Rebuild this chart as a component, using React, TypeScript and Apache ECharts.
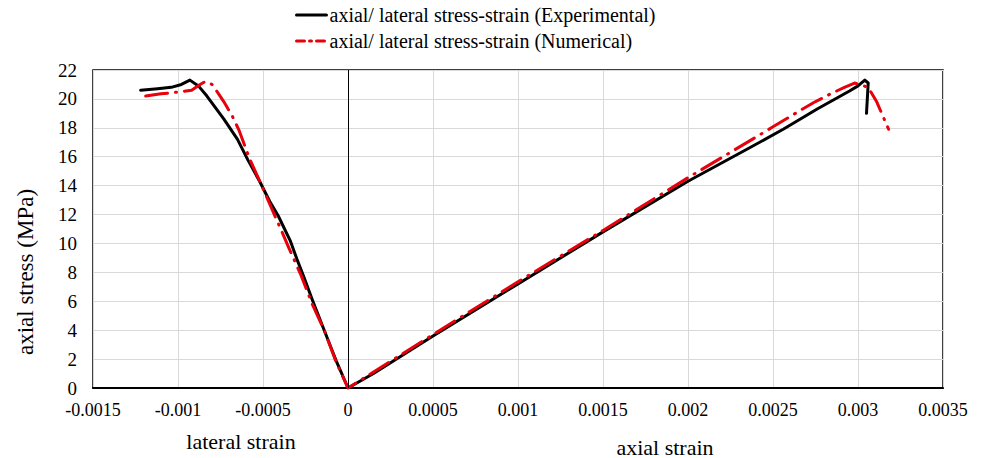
import React, { useEffect, useRef } from "react";
import * as echarts from "echarts";

// [strain, stress MPa]
const expLateral: [number, number][] = [
  [-0.00122, 20.6], [-0.00112, 20.7], [-0.00104, 20.8], [-0.00098, 21.0], [-0.00093, 21.3],
  [-0.00088, 20.9], [-0.00083, 20.2], [-0.00078, 19.4], [-0.00073, 18.6], [-0.00065, 17.2],
  [-0.00059, 15.8], [-0.00052, 14.3], [-0.00046, 12.9], [-0.00041, 11.9], [-0.00034, 10.2],
  [-0.00030, 8.9], [-0.00026, 7.7], [-0.00021, 6.1], [-0.00014, 4.0], [-0.00007, 1.9], [0, 0],
];
const expAxial: [number, number][] = [
  [0, 0], [0.00015, 1.0], [0.0005, 3.6], [0.001, 7.2], [0.0015, 10.8], [0.002, 14.3],
  [0.00236, 16.6], [0.00256, 17.9], [0.00276, 19.3], [0.00295, 20.55], [0.003, 20.9],
  [0.00304, 21.3], [0.00306, 21.1], [0.00305, 19.0],
];
const numLateral: [number, number][] = [
  [-0.00119, 20.2], [-0.00110, 20.35], [-0.00102, 20.45], [-0.00092, 20.6], [-0.00087, 21.0],
  [-0.00084, 21.2], [-0.00080, 21.0], [-0.00077, 20.5], [-0.00073, 19.8], [-0.00068, 18.8],
  [-0.00064, 17.8], [-0.00058, 15.9], [-0.00054, 14.85], [-0.00050, 13.8], [-0.00043, 11.9],
  [-0.00039, 10.85], [-0.00035, 9.75], [-0.00028, 7.9], [-0.00021, 5.8], [-0.00014, 4.0],
  [-0.00007, 1.8], [0, 0],
];
const numAxial: [number, number][] = [
  [0, 0], [0.0005, 3.7], [0.001, 7.35], [0.0015, 10.9], [0.002, 14.55], [0.00242, 17.5],
  [0.0025, 18.07], [0.00266, 19.2], [0.00274, 19.75], [0.00283, 20.3], [0.00292, 20.8],
  [0.00298, 21.1], [0.00306, 20.8], [0.00311, 19.8], [0.00318, 17.9],
];

const seriesNames = [
  "axial/ lateral stress-strain (Experimental)",
  "axial/ lateral stress-strain (Numerical)",
];
const xTicks = { min: -0.0015, max: 0.0035, interval: 0.0005 };
const yTicks = { min: 0, max: 22, interval: 2 };
const axisTitles = { y: "axial stress (MPa)", lateral: "lateral strain", axial: "axial strain" };

const FONT = '"Liberation Serif", "Times New Roman", serif';
const RED = "#e8000b";

export default function App() {
  const ref = useRef<HTMLDivElement>(null);
  useEffect(() => {
    if (!ref.current) return;
    const chart = echarts.init(ref.current, undefined, { renderer: "svg" });
    chart.setOption({
      animation: false,
      backgroundColor: "#ffffff",
      textStyle: { fontFamily: FONT, color: "#000" },
      legend: {
        orient: "vertical",
        left: 295,
        top: 3,
        padding: 0,
        itemWidth: 30,
        itemHeight: 14,
        itemGap: 2,
        itemStyle: { opacity: 0, borderWidth: 0 },
        textStyle: { fontFamily: FONT, fontSize: 20, color: "#000", lineHeight: 24, padding: [0, 0, 0, -2] },
        data: [
          { name: seriesNames[0], lineStyle: { color: "#000", width: 3, type: "solid" } },
          { name: seriesNames[1], lineStyle: { color: RED, width: 3, type: [8, 5, 2, 5] } },
        ],
      },
      grid: {
        left: 93,
        right: 39,
        top: 70,
        bottom: 70,
        show: true,
        borderColor: "#000",
        borderWidth: 1.5,
        containLabel: false,
      },
      xAxis: {
        type: "value",
        min: xTicks.min,
        max: xTicks.max,
        interval: xTicks.interval,
        axisLine: { show: true, onZero: false, lineStyle: { color: "#000", width: 2 } },
        axisTick: { show: false },
        axisLabel: {
          fontFamily: FONT,
          fontSize: 18,
          color: "#000",
          margin: 13,
          formatter: (v: number) => String(parseFloat(v.toFixed(4))),
        },
        splitLine: { show: true, lineStyle: { color: "#d9d9d9", width: 1 } },
      },
      yAxis: {
        type: "value",
        min: yTicks.min,
        max: yTicks.max,
        interval: yTicks.interval,
        axisLine: { show: false },
        axisTick: { show: false },
        axisLabel: { fontFamily: FONT, fontSize: 19, color: "#000", margin: 16 },
        splitLine: { show: true, lineStyle: { color: "#d9d9d9", width: 1 } },
      },
      graphic: [
        {
          type: "text",
          x: 25,
          y: 272,
          rotation: Math.PI / 2,
          style: {
            text: axisTitles.y,
            font: `23px ${FONT}`,
            fill: "#000",
            textAlign: "center",
            textVerticalAlign: "middle",
          },
        },
        {
          type: "text",
          x: 241,
          y: 441,
          style: {
            text: axisTitles.lateral,
            font: `22px ${FONT}`,
            fill: "#000",
            textAlign: "center",
            textVerticalAlign: "middle",
          },
        },
        {
          type: "text",
          x: 665,
          y: 447,
          style: {
            text: axisTitles.axial,
            font: `22px ${FONT}`,
            fill: "#000",
            textAlign: "center",
            textVerticalAlign: "middle",
          },
        },
      ],
      series: [
        {
          name: seriesNames[0],
          type: "line",
          data: [...expLateral, ...expAxial],
          symbol: "none",
          smooth: false,
          lineStyle: { color: "#000", width: 3, cap: "round", join: "round" },
          itemStyle: { color: "#000" },
          z: 2,
          markLine: {
            silent: true,
            symbol: "none",
            label: { show: false },
            lineStyle: { color: "#000", width: 1, type: "solid" },
            data: [{ xAxis: 0 }],
          },
        },
        {
          name: seriesNames[1],
          type: "line",
          data: [...numLateral, ...numAxial],
          symbol: "none",
          smooth: false,
          lineStyle: { color: RED, width: 3, type: [22, 8, 1, 8], cap: "round", join: "round" },
          itemStyle: { color: RED },
          z: 3,
        },
      ],
    });
    return () => chart.dispose();
  }, []);
  return (
    <div
      ref={ref}
      style={{ position: "fixed", left: 0, top: 0, width: 982, height: 458, background: "#fff" }}
    />
  );
}
